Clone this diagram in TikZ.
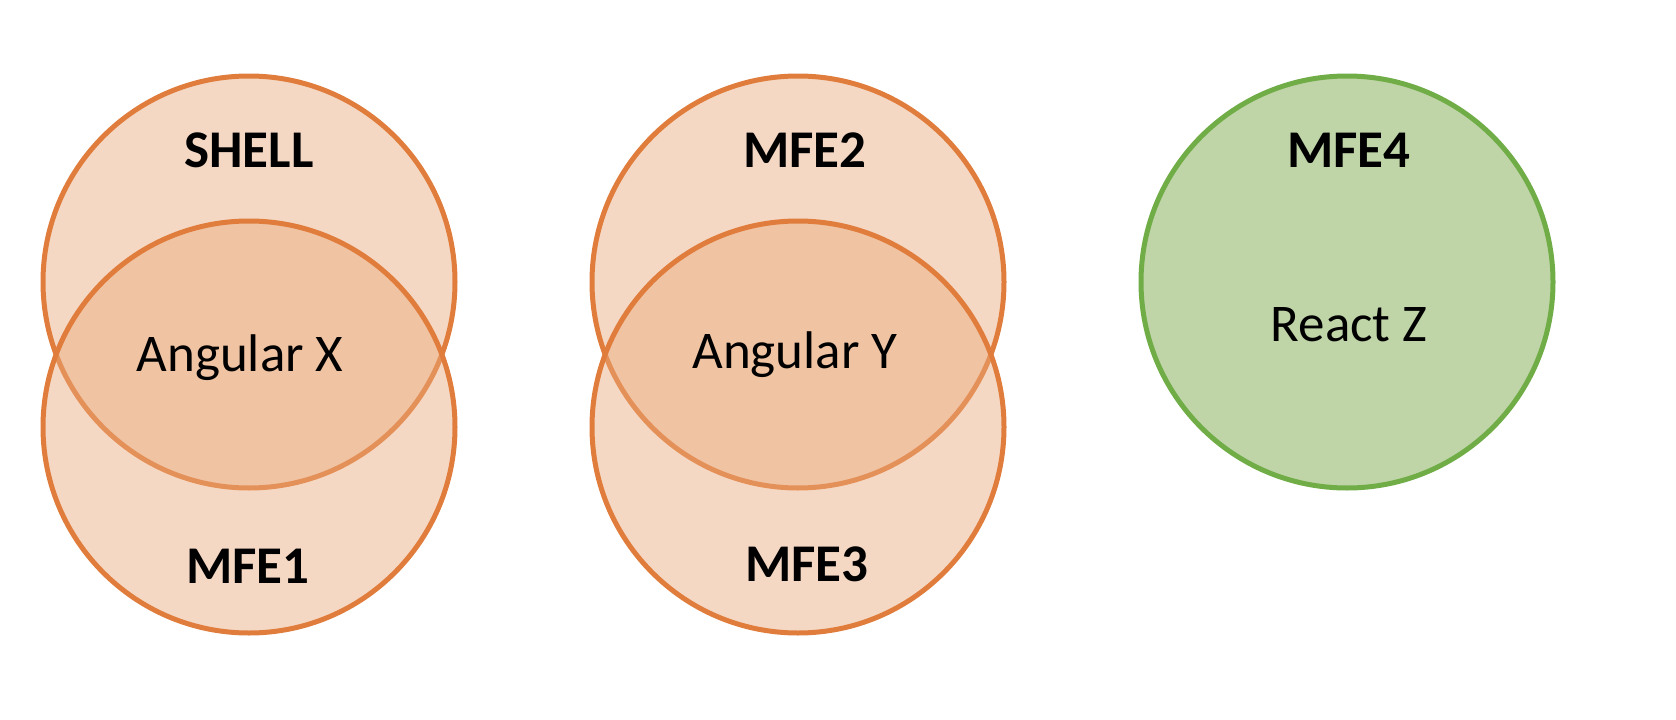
\documentclass[tikz,border=0pt]{standalone}
\usepackage{fontspec}
\setmainfont{Carlito}
\definecolor{orline}{RGB}{224,125,60}
\definecolor{orfill}{RGB}{235,170,125}
\definecolor{grline}{RGB}{112,173,71}
\definecolor{grfill}{RGB}{191,213,168}
\tikzset{
  orcircle/.style={circle, minimum size=412pt, inner sep=0pt, draw=orline, line width=5pt, fill=orfill, fill opacity=0.45, draw opacity=1},
  grcircle/.style={circle, minimum size=412pt, inner sep=0pt, draw=grline, line width=5pt, fill=grfill},
  title/.style={anchor=base, inner sep=0pt, font=\fontsize{53}{60}\selectfont\bfseries, text=black},
  body/.style={anchor=base, inner sep=0pt, font=\fontsize{53}{60}\selectfont, text=black}
}
\begin{document}
\begin{tikzpicture}[x=1pt,y=-1pt]
\useasboundingbox (0,0) rectangle (1676,720);
\fill[white] (0,0) rectangle (1676,720);
% left pair
\node[orcircle] (c1) at (249,282) {};
\node[orcircle] (c2) at (249,427) {};
% middle pair
\node[orcircle] (c3) at (798,282) {};
\node[orcircle] (c4) at (798,427) {};
% right
\node[grcircle] (c5) at (1347,282) {};
% labels
\node[title] (shell) at (249,167) {SHELL};
\node[body] (angx) at (240,371) {Angular X};
\node[title] (mfe1) at (248,583) {MFE1};
\node[title] (mfe2) at (805,167) {MFE2};
\node[body] (angy) at (795,368) {Angular Y};
\node[title] (mfe3) at (807,581) {MFE3};
\node[title] (mfe4) at (1349,167) {MFE4};
\node[body] (react) at (1349,341) {React Z};
\end{tikzpicture}
\end{document}
